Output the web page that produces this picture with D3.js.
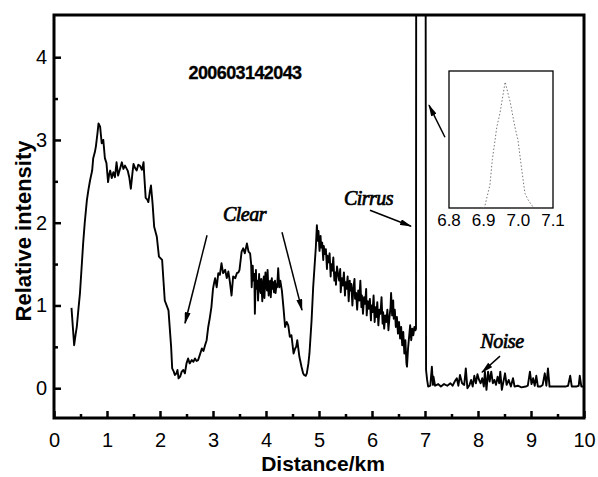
<!DOCTYPE html>
<html>
<head>
<meta charset="utf-8">
<script src="https://cdn.jsdelivr.net/npm/d3@7"></script>
<style>
  html, body { margin: 0; padding: 0; background: #fff; }
  svg { display: block; }
  .tick text { font-family: "Liberation Sans", Arial, sans-serif; font-size: 20px; fill: #000; }
  .tick line { stroke: #000; stroke-width: 2.5px; }
</style>
</head>
<body>
<svg id="chart" width="598" height="477"></svg>
<script>
// Lidar return profile, [distance km, relative intensity]
const profileNear = [
  [0.33,0.97],[0.36,0.70],[0.38,0.52],[0.41,0.66],[0.43,0.74],[0.46,0.95],[0.49,1.15],[0.52,1.45],
  [0.55,1.75],[0.58,2.00],[0.62,2.27],[0.65,2.40],[0.68,2.51],[0.72,2.63],[0.74,2.78],[0.77,2.85],
  [0.79,2.92],[0.82,3.08],[0.84,3.20],[0.87,3.16],[0.90,2.96],[0.93,3.00],[0.96,2.78],[0.99,2.72],
  [1.02,2.49],[1.04,2.58],[1.06,2.63],[1.09,2.54],[1.12,2.61],[1.15,2.55],[1.18,2.73],[1.21,2.57],
  [1.25,2.66],[1.28,2.73],[1.31,2.65],[1.34,2.69],[1.39,2.63],[1.42,2.55],[1.45,2.41],[1.48,2.60],
  [1.50,2.71],[1.53,2.66],[1.56,2.63],[1.59,2.70],[1.62,2.69],[1.66,2.64],[1.69,2.73],[1.70,2.60],
  [1.73,2.30],[1.76,2.28],[1.78,2.25],[1.81,2.38],[1.83,2.45],[1.86,2.23],[1.89,1.95],[1.94,1.83],
  [1.98,1.59],[2.04,1.55],[2.09,1.06],[2.16,0.94],[2.21,0.50],[2.23,0.24],[2.26,0.20],[2.28,0.16],
  [2.31,0.18],[2.33,0.22],[2.35,0.12]
];
const profileMid = [
  [2.38,0.14],[2.41,0.20],[2.44,0.22],[2.47,0.18],[2.50,0.30],[2.53,0.36],[2.56,0.30],[2.60,0.34],
  [2.63,0.32],[2.66,0.36],[2.69,0.33],[2.72,0.34],[2.75,0.40],[2.79,0.48],[2.82,0.45],[2.85,0.52],
  [2.88,0.58],[2.91,0.74],[2.94,0.85],[2.97,0.98],[3.00,1.20],[3.02,1.27],[3.04,1.33],[3.07,1.22],
  [3.10,1.39],[3.13,1.37],[3.16,1.51],[3.19,1.39],[3.23,1.43],[3.26,1.33],[3.29,1.41],[3.32,1.28],
  [3.35,1.12],[3.38,1.35],[3.42,1.33],[3.45,1.39],[3.48,1.40],[3.50,1.43],[3.54,1.65],[3.57,1.69],
  [3.60,1.63],[3.64,1.75],[3.67,1.65],[3.70,1.63],[3.72,1.50],[3.73,1.22],[3.75,1.48],[3.76,1.30],
  [3.78,1.38],[3.79,0.90],[3.81,1.43],[3.82,1.20],[3.84,1.30],[3.85,1.06],[3.87,1.38],[3.88,1.22],
  [3.90,1.15],[3.91,1.32],[3.93,1.05],[3.94,1.26],[3.96,1.35],[3.97,1.09],[3.99,1.40],[4.00,1.24],
  [4.02,1.18],[4.03,1.43],[4.05,1.12],[4.06,1.26],[4.08,1.30],[4.09,1.10],[4.11,1.33],[4.12,1.20],
  [4.14,1.28],[4.15,1.16],[4.17,1.30],[4.18,1.15],[4.20,1.26],[4.21,1.22],[4.23,1.45],[4.25,1.22],
  [4.27,1.30],[4.30,1.18],[4.33,0.97],[4.36,0.74],[4.39,0.80],[4.42,0.76],[4.45,0.62],[4.48,0.64],
  [4.52,0.42],[4.55,0.48],[4.57,0.50],[4.59,0.58],[4.63,0.38],[4.67,0.26],[4.70,0.18],[4.72,0.16],
  [4.75,0.15],[4.77,0.18],[4.80,0.30],[4.82,0.42],[4.86,0.82],[4.89,1.22],[4.92,1.51],[4.94,1.70]
];
const profileFar = [
  [4.96,1.97],[4.98,1.78],[4.99,1.90],[5.01,1.66],[5.03,1.84],[5.04,1.70],[5.06,1.76],[5.08,1.55],
  [5.09,1.72],[5.11,1.62],[5.13,1.68],[5.15,1.44],[5.16,1.60],[5.18,1.52],[5.20,1.63],[5.22,1.35],
  [5.23,1.50],[5.25,1.42],[5.27,1.58],[5.29,1.30],[5.31,1.40],[5.32,1.25],[5.34,1.47],[5.36,1.38],
  [5.38,1.30],[5.40,1.44],[5.41,1.16],[5.43,1.33],[5.45,1.24],[5.47,1.40],[5.49,1.12],[5.50,1.28],
  [5.52,1.20],[5.54,1.35],[5.56,1.05],[5.58,1.30],[5.59,1.18],[5.61,1.26],[5.63,1.00],[5.65,1.22],
  [5.67,1.32],[5.68,1.08],[5.70,1.15],[5.72,0.95],[5.74,1.18],[5.76,1.06],[5.78,1.30],[5.80,0.98],
  [5.81,1.12],[5.83,0.90],[5.85,1.10],[5.87,1.02],[5.89,1.20],[5.90,0.88],[5.92,1.05],[5.94,0.96],
  [5.96,1.08],[5.98,0.82],[5.99,1.00],[6.01,0.92],[6.03,1.12],[6.05,0.80],[6.07,0.98],[6.08,0.86],
  [6.10,1.04],[6.12,0.76],[6.14,0.95],[6.16,0.90],[6.18,1.10],[6.20,0.78],[6.21,0.92],[6.23,0.72],
  [6.25,0.88],[6.27,0.80],[6.29,0.95],[6.31,0.70],[6.33,0.86],[6.35,0.98],[6.36,1.15],[6.38,0.88],
  [6.40,1.06],[6.41,0.84],[6.43,0.95],[6.45,0.74],[6.47,0.86],[6.49,0.66],[6.51,0.80],[6.53,0.60],
  [6.55,0.74],[6.57,0.52],[6.59,0.68],[6.61,0.42],[6.63,0.58],[6.65,0.30],[6.66,0.26],[6.68,0.48],
  [6.70,0.62],[6.72,0.76],[6.74,0.58],[6.76,0.72],[6.78,0.64],[6.80,0.74],[6.82,0.70],[6.83,0.72],
  [6.84,12.0],[6.96,23.0],[7.00,12.0],[7.02,0.22],[7.04,0.10]
];
const profileNoise = [
  [7.06,0.02],[7.10,0.03],[7.13,0.26],[7.15,0.04],[7.16,0.14],[7.19,0.03],[7.25,0.05],[7.30,0.02],
  [7.36,0.05],[7.42,0.03],[7.48,0.06],[7.52,0.03],[7.56,0.08],[7.60,0.12],[7.63,0.03],[7.66,0.16],
  [7.70,0.06],[7.74,0.04],[7.77,0.24],[7.80,0.00],[7.84,0.04],[7.87,0.10],[7.90,0.02],[7.93,0.15],
  [7.96,0.06],[7.99,0.17],[8.02,0.10],[8.05,0.06],[8.08,0.12],[8.11,0.02],[8.13,0.20],[8.16,-0.02],
  [8.19,0.20],[8.22,0.08],[8.25,0.20],[8.28,0.06],[8.31,0.10],[8.34,0.04],[8.37,0.14],[8.40,0.06],
  [8.42,0.20],[8.45,-0.02],[8.48,0.08],[8.51,0.18],[8.54,0.04],[8.58,0.10],[8.62,0.02],[8.66,0.12],
  [8.69,0.02],[8.75,0.03],[8.82,0.01],[8.90,0.02],[8.94,0.03],[8.98,0.20],[9.01,0.05],[9.04,0.12],
  [9.07,0.03],[9.10,0.15],[9.13,0.02],[9.18,0.02],[9.22,0.04],[9.26,0.18],[9.29,0.03],[9.32,0.24],
  [9.35,0.02],[9.45,0.02],[9.55,0.02],[9.65,0.02],[9.70,0.03],[9.74,0.15],[9.77,0.02],[9.85,0.02],
  [9.90,0.03],[9.92,0.15],[9.95,0.02],[10.0,0.02]
];
// Close-up of the cirrus return
const insetPeak = [
  [6.898,0.0],[6.904,0.5],[6.918,4.2],[6.925,8.8],[6.938,14.8],[6.947,17.3],[6.962,23.0],
  [6.977,19.2],[6.990,14.8],[6.999,12.4],[7.010,6.9],[7.019,2.7],[7.028,1.5],[7.042,0.2]
];

const xTicks = [0,1,2,3,4,5,6,7,8,9,10];
const yTicks = [0,1,2,3,4];
const insetTicks = [6.8, 6.9, 7.0, 7.1];

// annotation text: [label, km, intensity]
const notes = [["Clear",3.594,2.018],["Cirrus",5.934,2.211],["Noise",8.453,0.483]];
const stamp = ["200603142043", 3.604, 3.734];
// arrows: [fromKm, fromI, toKm, toI]
const arrows = [
  [2.887,1.849,2.472,0.785],
  [4.302,1.885,4.679,0.943],
  [5.962,2.151,6.736,1.958],
  [7.377,3.033,7.075,3.420],
  [8.415,0.387,8.075,0.193]
];

const svg = d3.select("#chart");
const L = 54, R = 584, T = 15, B = 418;
const x = d3.scaleLinear([0, 10], [L, R]);
const y = d3.scaleLinear([-0.36, 4.51], [B, T]);

svg.append("defs").append("clipPath").attr("id", "plotClip")
  .append("rect").attr("x", L).attr("y", T).attr("width", R - L).attr("height", B - T);

const marker = svg.select("defs").append("marker")
  .attr("id", "head").attr("viewBox", "0 0 12 6").attr("refX", 11).attr("refY", 3)
  .attr("markerWidth", 12).attr("markerHeight", 6).attr("markerUnits", "userSpaceOnUse")
  .attr("orient", "auto");
marker.append("path").attr("d", "M0,0 L12,3 L0,6 Z").attr("fill", "#000");

// axes with inward ticks
const xAxis = d3.axisBottom(x).tickValues(xTicks).tickFormat(d3.format("d"))
  .tickSizeInner(-7).tickSizeOuter(0).tickPadding(15);
const xMinor = d3.axisBottom(x).tickValues(d3.range(0.5, 10, 1)).tickFormat("")
  .tickSizeInner(-4).tickSizeOuter(0);
const yAxis = d3.axisLeft(y).tickValues(yTicks).tickFormat(d3.format("d"))
  .tickSizeInner(-7).tickSizeOuter(0).tickPadding(7);
const yMinor = d3.axisLeft(y).tickValues([0.5,1.5,2.5,3.5]).tickFormat("")
  .tickSizeInner(-4).tickSizeOuter(0);

[[xAxis, `translate(0,${B})`], [xMinor, `translate(0,${B})`],
 [yAxis, `translate(${L},0)`], [yMinor, `translate(${L},0)`]].forEach(([ax, tr]) => {
  const g = svg.append("g").attr("transform", tr).call(ax);
  g.select(".domain").remove();
});

// profile line
const line = d3.line().x(d => x(d[0])).y(d => y(d[1]));
const profile = profileNear.concat(profileMid, profileFar, profileNoise);
svg.append("path").datum(profile)
  .attr("clip-path", "url(#plotClip)")
  .attr("d", line).attr("fill", "none").attr("stroke", "#000")
  .attr("stroke-width", 1.9).attr("stroke-linejoin", "round");

// frame
svg.append("rect").attr("x", L).attr("y", T).attr("width", R - L).attr("height", B - T)
  .attr("fill", "none").attr("stroke", "#000").attr("stroke-width", 3);

// axis titles
svg.append("text").attr("x", (L + R) / 2 + 4).attr("y", 471).attr("text-anchor", "middle")
  .attr("font-family", "Liberation Sans, Arial, sans-serif").attr("font-weight", "bold")
  .attr("font-size", 21).text("Distance/km");
svg.append("text").attr("transform", "translate(31,231) rotate(-90)").attr("text-anchor", "middle")
  .attr("font-family", "Liberation Sans, Arial, sans-serif").attr("font-weight", "bold")
  .attr("font-size", 22).text("Relative intensity");

// timestamp
svg.append("text").attr("x", x(stamp[1])).attr("y", y(stamp[2])).attr("text-anchor", "middle")
  .attr("font-family", "Liberation Sans, Arial, sans-serif").attr("font-weight", "bold")
  .attr("font-size", 18).attr("letter-spacing", -0.6).attr("stroke", "#000").attr("stroke-width", 0.3)
  .text(stamp[0]);

// notes
svg.selectAll("text.note").data(notes).join("text").attr("class", "note")
  .attr("x", d => x(d[1])).attr("y", d => y(d[2])).attr("text-anchor", "middle")
  .attr("font-family", "Liberation Serif, Times New Roman, serif").attr("font-style", "italic")
  .attr("font-size", 20).attr("stroke", "#000").attr("stroke-width", 0.7)
  .attr("letter-spacing", -0.5)
  .text(d => d[0]);

svg.selectAll("line.arrow").data(arrows).join("line").attr("class", "arrow")
  .attr("x1", d => x(d[0])).attr("y1", d => y(d[1]))
  .attr("x2", d => x(d[2])).attr("y2", d => y(d[3]))
  .attr("stroke", "#000").attr("stroke-width", 1.5).attr("marker-end", "url(#head)");

// inset
const IL = 449, IR = 553, IT = 71, IB = 208;
const xi = d3.scaleLinear([6.8, 7.1], [IL, IR]);
const yi = d3.scaleLinear([0, 25], [IB, IT]);
svg.append("rect").attr("x", IL).attr("y", IT).attr("width", IR - IL).attr("height", IB - IT)
  .attr("fill", "#fff").attr("stroke", "#000").attr("stroke-width", 1.3);
svg.append("path").datum(insetPeak)
  .attr("d", d3.line().x(d => xi(d[0])).y(d => yi(d[1])))
  .attr("fill", "none").attr("stroke", "#777").attr("stroke-width", 1)
  .attr("stroke-dasharray", "1.5,2");
svg.selectAll("text.itick").data(insetTicks).join("text").attr("class", "itick")
  .attr("x", d => xi(d)).attr("y", IB + 18).attr("text-anchor", "middle")
  .attr("font-family", "Liberation Sans, Arial, sans-serif").attr("font-size", 17)
  .text(d => d.toFixed(1));
</script>
</body>
</html>
